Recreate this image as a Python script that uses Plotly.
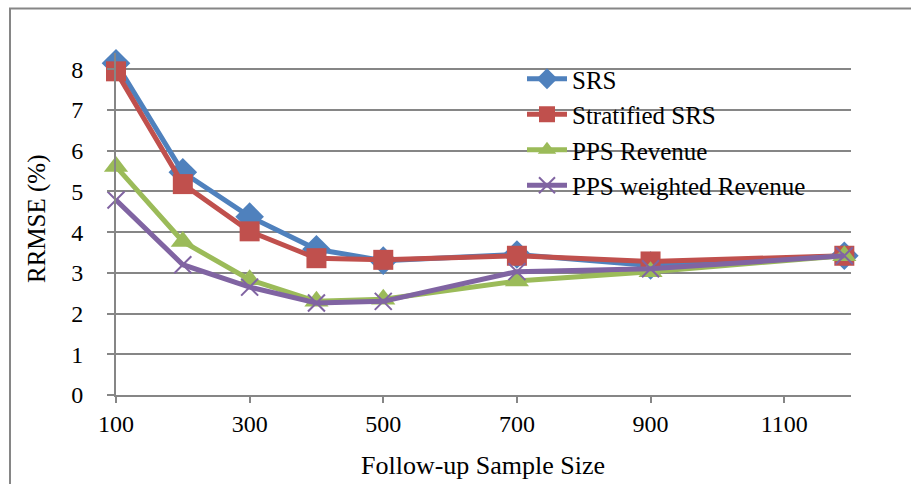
import plotly.graph_objects as go

sample_size = [100, 200, 300, 400, 500, 700, 900, 1190]
srs = [8.15, 5.47, 4.38, 3.58, 3.30, 3.45, 3.18, 3.42]
strat_srs = [7.95, 5.18, 4.02, 3.36, 3.32, 3.42, 3.28, 3.42]
pps_rev = [5.61, 3.77, 2.83, 2.30, 2.35, 2.80, 3.03, 3.42]
pps_wrev = [4.79, 3.20, 2.65, 2.26, 2.30, 3.03, 3.10, 3.42]

series_names = ["SRS", "Stratified SRS", "PPS Revenue", "PPS weighted Revenue"]
x_ticks = [100, 300, 500, 700, 900, 1100]
y_ticks = [0, 1, 2, 3, 4, 5, 6, 7, 8]

FONT = "Liberation Serif, Times New Roman, serif"
GRID = "#868686"

styles = [
    dict(color="#4F81BD", symbol="diamond", size=22, lw=0),
    dict(color="#C0504D", symbol="square", size=20, lw=0),
    dict(color="#9BBB59", symbol="triangle-up", size=21, lw=0),
    dict(color="#8064A2", symbol="x-thin", size=17, lw=2),
]

fig = go.Figure()
for name, ys, st in zip(series_names, [srs, strat_srs, pps_rev, pps_wrev], styles):
    fig.add_trace(go.Scatter(
        x=sample_size, y=ys, name=name, mode="lines+markers",
        line=dict(color=st["color"], width=5),
        marker=dict(symbol=st["symbol"], size=st["size"], color=st["color"],
                    line=dict(color=st["color"], width=st["lw"])),
        cliponaxis=False,
    ))

W, H = 911, 484
L, R, T, B = 116, 60, 53, 89
pw = W - L - R
ph = H - T - B

def px_x(p):
    return (p - L) / pw

def px_y(p):
    return (H - B - p) / ph

fig.update_layout(
    width=W, height=H,
    margin=dict(l=L, r=R, t=T, b=B, pad=0),
    paper_bgcolor="white", plot_bgcolor="white",
    font=dict(family=FONT, size=24, color="black"),
    showlegend=True,
    legend=dict(x=px_x(522), y=px_y(56), xanchor="left", yanchor="top",
                font=dict(family=FONT, size=25, color="black"),
                bgcolor="rgba(0,0,0,0)", tracegroupgap=0, itemwidth=40),
    xaxis=dict(range=[100, 1200], tickvals=x_ticks, ticks="outside", ticklen=6,
               tickcolor=GRID, tickwidth=2, showgrid=False, zeroline=False,
               showline=True, linecolor=GRID, linewidth=2,
               ticklabelstandoff=0, tickfont=dict(size=24)),
    yaxis=dict(range=[0, 8.4], tickvals=y_ticks, ticks="outside", ticklen=7,
               tickcolor=GRID, tickwidth=2, showgrid=True, gridcolor=GRID,
               gridwidth=2, zeroline=False, showline=True, linecolor=GRID,
               linewidth=2, ticklabelstandoff=19, tickfont=dict(size=24)),
    annotations=[
        dict(text="RRMSE (%)", x=px_x(37), y=px_y(219), xref="paper", yref="paper",
             showarrow=False, textangle=-90, font=dict(size=25),
             xanchor="center", yanchor="middle"),
        dict(text="Follow-up Sample Size", x=px_x(483), y=px_y(466), xref="paper",
             yref="paper", showarrow=False, font=dict(size=26),
             xanchor="center", yanchor="middle"),
    ],
    shapes=[
        dict(type="rect", xref="paper", yref="paper", x0=px_x(10), x1=px_x(930),
             y0=px_y(500), y1=px_y(8.5), line=dict(color=GRID, width=2),
             layer="below"),
    ],
)

fig.write_html("out.html", config={"displayModeBar": False},
               post_script="document.body.style.margin='0';document.body.style.padding='0';")
